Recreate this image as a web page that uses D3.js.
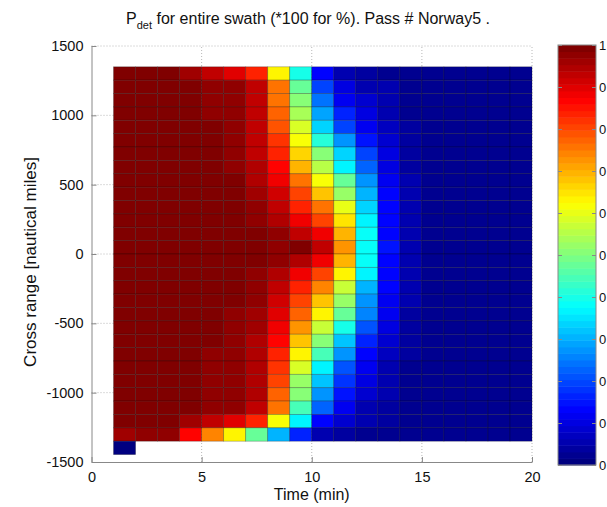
<!DOCTYPE html>
<html lang="en">
<meta charset="utf-8">
<style>
body { margin: 0; background: #fff; }
svg { display: block; }
text { font-family: "Liberation Sans", Arial, sans-serif; fill: #111; }
.grid line { stroke: #b8b8b8; stroke-dasharray: 1,2; }
.axis path, .axis line { stroke: #888; }
</style>
<script src="https://d3js.org/d3.v7.min.js"></script>
<body>
<script>

// Time bin edges (min) and cross range bin edges (nautical miles, top to bottom)
var timeEdges = [1, 2, 3, 4, 5, 6, 7, 8, 9, 10, 11, 12, 13, 14, 15, 16, 17, 18, 19, 20];
var rangeEdges = [1350, 1253.6, 1157.1, 1060.7, 964.3, 867.9, 771.4, 675, 578.6, 482.1,
                  385.7, 289.3, 192.9, 96.4, 0, -96.4, -192.9, -289.3, -385.7, -482.1,
                  -578.6, -675, -771.4, -867.9, -964.3, -1060.7, -1157.1, -1253.6, -1350, -1446.4];

// Pdet per cell, one row per cross range bin (top to bottom), one value per time bin
var pdet = [
  [1.00,1.00,0.99,0.96,0.93,0.90,0.83,0.63,0.40,0.14,0.06,0.04,0.03,0.03,0.02,0.02,0.02,0.02,0.02],
  [1.00,0.99,0.99,0.99,0.98,0.98,0.93,0.75,0.47,0.19,0.10,0.06,0.05,0.03,0.02,0.02,0.02,0.02,0.02],
  [1.00,0.99,0.99,0.99,0.98,0.98,0.93,0.76,0.50,0.24,0.12,0.08,0.05,0.03,0.02,0.02,0.02,0.02,0.02],
  [0.99,0.99,0.99,0.99,0.98,0.98,0.93,0.78,0.54,0.29,0.16,0.10,0.06,0.03,0.02,0.02,0.02,0.02,0.02],
  [0.99,0.99,0.99,0.99,0.99,0.98,0.93,0.79,0.58,0.34,0.20,0.12,0.07,0.04,0.03,0.02,0.02,0.02,0.02],
  [0.99,0.99,0.99,0.99,0.99,0.98,0.93,0.82,0.62,0.42,0.27,0.15,0.08,0.04,0.03,0.02,0.02,0.02,0.02],
  [0.99,0.99,0.99,0.99,0.99,0.98,0.93,0.84,0.67,0.50,0.33,0.19,0.10,0.04,0.03,0.03,0.02,0.02,0.02],
  [0.99,0.99,0.99,0.99,0.99,0.98,0.94,0.86,0.70,0.55,0.37,0.22,0.10,0.04,0.03,0.03,0.02,0.02,0.02],
  [0.99,0.99,0.99,0.99,0.99,0.99,0.95,0.89,0.75,0.62,0.47,0.27,0.12,0.05,0.03,0.03,0.02,0.02,0.02],
  [0.99,0.99,0.99,0.99,0.99,0.99,0.96,0.92,0.80,0.68,0.53,0.30,0.13,0.05,0.03,0.03,0.02,0.02,0.02],
  [0.99,0.99,0.99,0.99,0.99,0.99,0.97,0.93,0.84,0.75,0.60,0.34,0.13,0.05,0.03,0.03,0.02,0.02,0.02],
  [1.00,0.99,0.99,0.99,0.99,0.99,0.98,0.95,0.89,0.81,0.65,0.37,0.14,0.05,0.03,0.03,0.02,0.02,0.02],
  [1.00,1.00,0.99,0.99,0.99,0.99,0.99,0.97,0.93,0.88,0.70,0.38,0.14,0.05,0.03,0.03,0.02,0.02,0.02],
  [1.00,1.00,1.00,1.00,0.99,0.99,1.00,0.98,0.99,0.93,0.73,0.39,0.15,0.05,0.03,0.03,0.02,0.02,0.02],
  [1.00,1.00,0.99,0.99,0.99,0.99,0.99,0.97,0.94,0.89,0.70,0.38,0.14,0.05,0.03,0.03,0.02,0.02,0.02],
  [1.00,0.99,0.99,0.99,0.99,0.99,0.98,0.95,0.89,0.80,0.64,0.36,0.13,0.05,0.03,0.03,0.02,0.02,0.02],
  [0.99,0.99,0.99,0.99,0.99,0.99,0.97,0.93,0.84,0.74,0.57,0.31,0.13,0.05,0.03,0.03,0.02,0.02,0.02],
  [0.99,0.99,0.99,0.99,0.99,0.99,0.97,0.92,0.80,0.68,0.52,0.27,0.12,0.05,0.03,0.03,0.02,0.02,0.02],
  [0.99,0.99,0.99,0.99,0.99,0.98,0.96,0.90,0.77,0.63,0.47,0.25,0.11,0.04,0.03,0.02,0.02,0.02,0.02],
  [0.99,0.99,0.99,0.99,0.99,0.98,0.96,0.88,0.73,0.57,0.40,0.21,0.10,0.04,0.03,0.02,0.02,0.02,0.02],
  [0.99,0.99,0.99,0.99,0.99,0.98,0.95,0.87,0.68,0.50,0.32,0.17,0.08,0.04,0.03,0.02,0.02,0.02,0.02],
  [0.99,0.99,0.99,0.99,0.98,0.98,0.94,0.84,0.64,0.45,0.27,0.14,0.07,0.04,0.03,0.02,0.02,0.02,0.02],
  [0.99,0.99,0.99,0.99,0.98,0.98,0.94,0.82,0.58,0.37,0.21,0.12,0.06,0.03,0.02,0.02,0.02,0.02,0.02],
  [0.99,0.99,0.99,0.99,0.98,0.98,0.94,0.80,0.53,0.32,0.18,0.10,0.05,0.03,0.02,0.02,0.02,0.02,0.02],
  [1.00,0.99,0.99,0.99,0.98,0.98,0.94,0.78,0.50,0.27,0.15,0.08,0.05,0.03,0.02,0.02,0.02,0.02,0.02],
  [1.00,0.99,0.99,0.99,0.98,0.98,0.93,0.75,0.45,0.22,0.12,0.06,0.04,0.03,0.02,0.02,0.02,0.02,0.02],
  [1.00,0.99,0.99,0.96,0.93,0.90,0.83,0.62,0.37,0.13,0.09,0.06,0.04,0.03,0.02,0.02,0.02,0.02,0.02],
  [0.96,0.97,0.97,0.86,0.74,0.64,0.47,0.30,0.16,0.06,0.04,0.03,0.03,0.02,0.02,0.02,0.02,0.02,0.02],
  [0.00,null,null,null,null,null,null,null,null,null,null,null,null,null,null,null,null,null,null]
];

var xTicks = [0, 5, 10, 15, 20];
var yTicks = [-1500, -1000, -500, 0, 500, 1000, 1500];
var cbTicks = [0, 0.1, 0.2, 0.3, 0.4, 0.5, 0.6, 0.7, 0.8, 0.9, 1];
// colorbar labels as they show in the figure (cut at the window edge)
var cbLabels = ["0", "0", "0", "0", "0", "0", "0", "0", "0", "0", "1"];

var width = 607,
    height = 507;

var svg = d3.select("body")
            .append("svg")
            .attr("width", width)
            .attr("height", height);

var x = d3.scaleLinear().domain([0, 20]).range([91.5, 532]);
var y = d3.scaleLinear().domain([-1500, 1500]).range([462, 46]);

// MATLAB jet, 64 levels
function jet(t) {
  var c = function(v) { return Math.max(0, Math.min(1, v)); };
  return d3.rgb(255 * c(1.5 - Math.abs(4 * t - 3)),
                255 * c(1.5 - Math.abs(4 * t - 2)),
                255 * c(1.5 - Math.abs(4 * t - 1))).toString();
}
function level(v) { return jet(Math.min(63, Math.floor(v * 64)) / 63); }

// grid (behind the cells)
var grid = svg.append("g").attr("class", "grid");
grid.selectAll(".gx").data(xTicks.slice(1)).enter().append("line")
    .attr("x1", function(d) { return x(d); }).attr("x2", function(d) { return x(d); })
    .attr("y1", y(-1500)).attr("y2", y(1500));
grid.selectAll(".gy").data(yTicks.slice(1)).enter().append("line")
    .attr("y1", function(d) { return y(d); }).attr("y2", function(d) { return y(d); })
    .attr("x1", x(0)).attr("x2", x(20));

// pcolor cells
var cells = [];
pdet.forEach(function(row, r) {
  row.forEach(function(v, c) {
    if (v !== null) cells.push({ r: r, c: c, v: v });
  });
});

svg.append("g")
  .selectAll("rect")
  .data(cells)
  .enter().append("rect")
    .attr("x", function(d) { return x(timeEdges[d.c]); })
    .attr("y", function(d) { return y(rangeEdges[d.r]); })
    .attr("width", function(d) { return x(timeEdges[d.c + 1]) - x(timeEdges[d.c]); })
    .attr("height", function(d) { return y(rangeEdges[d.r + 1]) - y(rangeEdges[d.r]); })
    .attr("fill", function(d) { return level(d.v); })
    .attr("stroke", "rgba(0,0,0,0.3)")
    .attr("stroke-width", 0.8);

// axes
var plain = function(d) { return String(d); };

svg.append("g")
    .attr("class", "axis")
    .attr("transform", "translate(0," + y(-1500) + ")")
    .call(d3.axisBottom(x).tickValues(xTicks).tickFormat(plain).tickSizeInner(-5).tickSizeOuter(0).tickPadding(10));

svg.append("g")
    .attr("class", "axis")
    .attr("transform", "translate(" + x(0) + ",0)")
    .call(d3.axisLeft(y).tickValues(yTicks).tickFormat(plain).tickSizeInner(-5).tickSizeOuter(0).tickPadding(8));

svg.selectAll(".axis text").style("font-size", "14.5px").attr("fill", "#111");

// labels
svg.append("text")
    .attr("x", x(10)).attr("y", 500)
    .attr("text-anchor", "middle")
    .style("font-size", "16px")
    .text("Time (min)");

svg.append("text")
    .attr("transform", "translate(36,262) rotate(-90)")
    .attr("text-anchor", "middle")
    .style("font-size", "17px")
    .text("Cross range [nautical miles]");

var title = svg.append("text")
    .attr("x", 308).attr("y", 24)
    .attr("text-anchor", "middle")
    .style("font-size", "16px");
title.append("tspan").text("P");
title.append("tspan").attr("dy", 5).style("font-size", "11px").text("det");
title.append("tspan").attr("dy", -5).text(" for entire swath (*100 for %). Pass # Norway5 .");

// colorbar
var cb = d3.scaleLinear().domain([0, 1]).range([465, 45]);
var cbLeft = 558, cbRight = 596;
var levels = d3.range(64);
svg.append("g")
  .selectAll("rect")
  .data(levels)
  .enter().append("rect")
    .attr("x", cbLeft)
    .attr("width", cbRight - cbLeft)
    .attr("y", function(d) { return cb((d + 1) / 64); })
    .attr("height", cb(0) - cb(1 / 64) + 0.5)
    .attr("fill", function(d) { return jet(d / 63); });

svg.append("rect")
    .attr("x", cbLeft).attr("y", cb(1))
    .attr("width", cbRight - cbLeft).attr("height", cb(0) - cb(1))
    .attr("fill", "none").attr("stroke", "#888");

var cbAxis = svg.append("g")
    .attr("class", "axis")
    .attr("transform", "translate(" + cbRight + ",0)")
    .call(d3.axisRight(cb).tickValues(cbTicks)
      .tickFormat(function(d, i) { return cbLabels[i]; })
      .tickSizeInner(-4).tickSizeOuter(0).tickPadding(3));
cbAxis.select(".domain").remove();
cbAxis.selectAll("text").style("font-size", "13px").attr("fill", "#111");

svg.append("g")
    .attr("transform", "translate(" + cbLeft + ",0)")
    .call(d3.axisLeft(cb).tickValues(cbTicks).tickFormat("").tickSizeInner(-4).tickSizeOuter(0))
    .call(function(g) { g.select(".domain").remove(); g.selectAll("line").attr("stroke", "#888"); });

</script>
</body>
</html>
